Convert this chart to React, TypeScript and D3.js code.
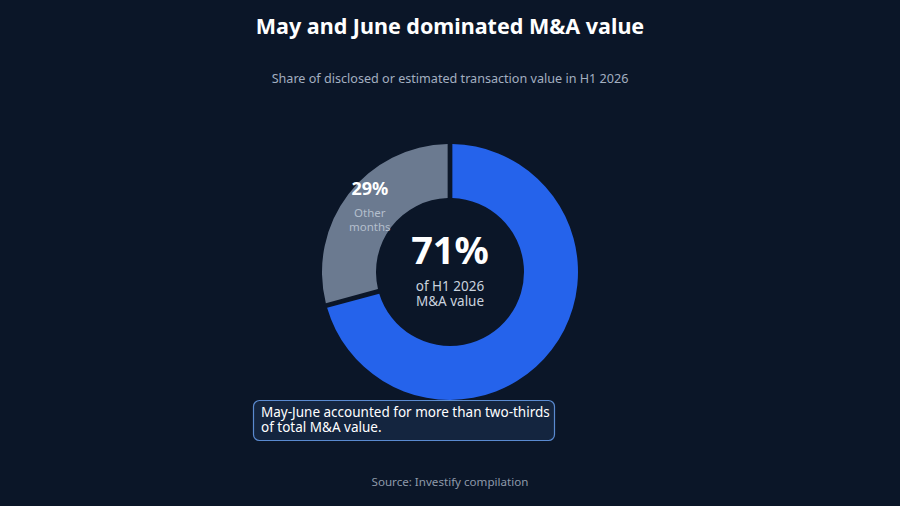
import React from 'react';
import * as d3 from 'd3';

const segments = ['May-June', 'Other months'];
const shares = [71, 29];
const colors = ['#2563eb', '#6b7a90'];

const title = 'May and June dominated M&A value';
const subtitle = 'Share of disclosed or estimated transaction value in H1 2026';
const note = ['May-June accounted for more than two-thirds', 'of total M&A value.'];
const source = 'Source: Investify compilation';

const W = 900;
const H = 506;
const font = '"Noto Sans", "Open Sans", sans-serif';

const App: React.FC = () => {
  const cx = 450;
  const cy = 272;
  const outerR = 128;
  const innerR = 74;

  const data = segments.map((name, i) => ({ name, value: shares[i] }));
  const pie = d3.pie<{ name: string; value: number }>()
    .value((d) => d.value)
    .sort(null)
    .padAngle(0.032);
  const arc = d3.arc<d3.PieArcDatum<{ name: string; value: number }>>()
    .innerRadius(innerR)
    .outerRadius(outerR);
  const arcs = pie(data);

  // label for the smaller slice sits around its centroid
  const other = arcs[1];
  const [lx, ly] = arc.centroid(other);

  return (
    <div style={{ position: 'fixed', left: 0, top: 0, width: W, height: H, background: '#0b1628' }}>
      <svg width={W} height={H} style={{ display: 'block', fontFamily: font }}>
        <rect width={W} height={H} fill="#0b1628" />
        <text x={W / 2} y={34} textAnchor="middle" fill="#ffffff" fontSize={21.5} fontWeight={700}>
          {title}
        </text>
        <text x={W / 2} y={83} textAnchor="middle" fill="#a3afc0" fontSize={12.6}>
          {subtitle}
        </text>

        <g transform={`translate(${cx},${cy})`}>
          {arcs.map((d, i) => (
            <path key={d.data.name} d={arc(d) || ''} fill={colors[i]} />
          ))}
          <text x={lx} y={ly - 16} textAnchor="middle" fill="#ffffff" fontSize={18} fontWeight={700}>
            {`${other.data.value}%`}
          </text>
          <text x={lx} y={ly + 6} textAnchor="middle" fill="#b4bfcd" fontSize={11.5}>Other</text>
          <text x={lx} y={ly + 20} textAnchor="middle" fill="#b4bfcd" fontSize={11.5}>months</text>

          <text x={0} y={-8} textAnchor="middle" fill="#ffffff" fontSize={38} fontWeight={700}>
            {`${arcs[0].data.value}%`}
          </text>
          <text x={0} y={19} textAnchor="middle" fill="#c9d2de" fontSize={13.5}>of H1 2026</text>
          <text x={0} y={34} textAnchor="middle" fill="#c9d2de" fontSize={13.5}>M&amp;A value</text>
        </g>

        <rect x={253.5} y={400.5} width={301} height={40} rx={6} fill="#14253f" stroke="#5a8ad0" strokeWidth={1.2} />
        {note.map((line, i) => (
          <text key={i} x={261} y={417 + i * 15} fill="#ffffff" fontSize={13.5}>
            {line}
          </text>
        ))}

        <text x={W / 2} y={486} textAnchor="middle" fill="#8e99aa" fontSize={11.6}>
          {source}
        </text>
      </svg>
    </div>
  );
};

export default App;
